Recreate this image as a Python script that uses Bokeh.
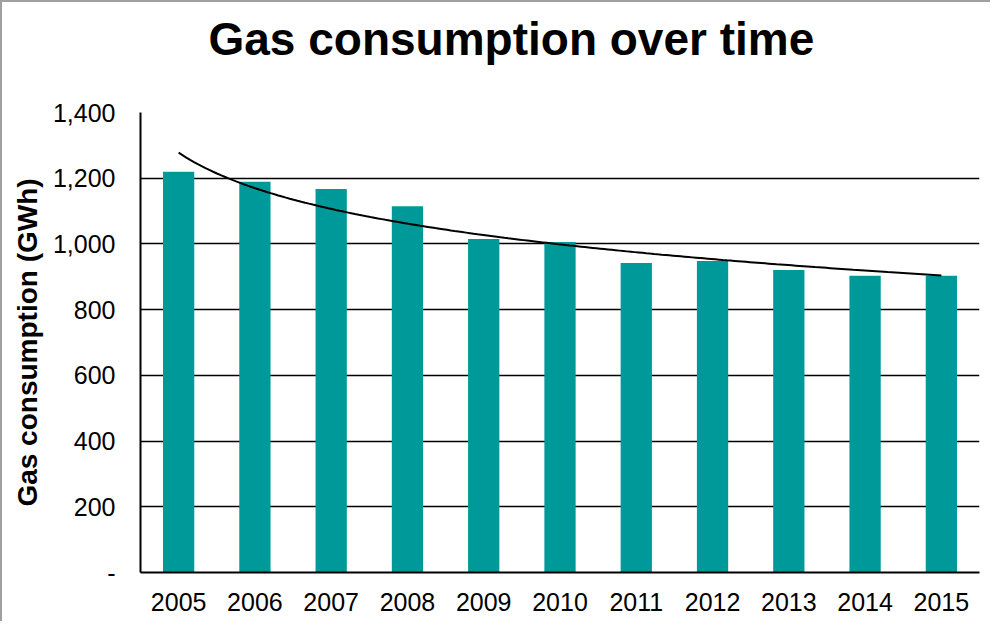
import numpy as np
from bokeh.plotting import figure
from bokeh.models import Range1d, FixedTicker, NumeralTickFormatter, Title
from bokeh.embed import file_html
from bokeh.resources import INLINE

# ---- data ----
years = ["2005", "2006", "2007", "2008", "2009", "2010",
         "2011", "2012", "2013", "2014", "2015"]
consumption = [1220, 1189, 1167, 1115, 1015, 1006, 942, 948, 921, 903, 903]
y_ticks = [0, 200, 400, 600, 800, 1000, 1200, 1400]
title_text = "Gas consumption over time"

idx = np.arange(1, len(years) + 1)

# logarithmic trendline (least squares fit of the data, like a spreadsheet trendline)
b, a = np.polyfit(np.log(idx), np.array(consumption, dtype=float), 1)
tx = np.linspace(1, len(years), 200)
ty = a + b * np.log(tx)

FONT = "Liberation Sans"

p = figure(width=990, height=621, output_backend="svg", toolbar_location=None,
           x_range=Range1d(0.5, len(years) + 0.5), y_range=Range1d(0, 1400),
           min_border_left=138, min_border_top=110, min_border_bottom=51,
           min_border_right=13)
p.styles = {"border-top": "2px solid #a0a0a0", "border-left": "2px solid #a0a0a0"}

# spacer panel between the frame and the title (nearest the frame)
p.add_layout(Title(text=" ", text_font=FONT, text_font_size="20px", standoff=19), "above")
# main title
p.add_layout(Title(text=title_text, text_font=FONT, text_font_size="46px",
                   text_font_style="bold", text_color="black", align="left",
                   offset=68, standoff=10), "above")

p.vbar(x=idx, top=consumption, width=0.41, color="#009999", line_color=None)
p.line(tx, ty, line_color="black", line_width=2)

p.outline_line_color = None
p.background_fill_color = "white"
p.border_fill_color = "white"

p.xgrid.grid_line_color = None
p.ygrid.grid_line_color = "black"
p.ygrid.grid_line_width = 1.5
p.ygrid.ticker = FixedTicker(ticks=y_ticks)

p.xaxis.ticker = FixedTicker(ticks=list(idx))
p.xaxis.major_label_overrides = {int(i): y for i, y in zip(idx, years)}
p.yaxis.ticker = FixedTicker(ticks=y_ticks)
p.yaxis.formatter = NumeralTickFormatter(format="0,0")
p.yaxis.major_label_overrides = {0: "-"}

for ax in (p.xaxis[0], p.yaxis[0]):
    ax.axis_line_color = "black"
    ax.axis_line_width = 2
    ax.major_tick_out = 0
    ax.major_tick_in = 0
    ax.minor_tick_out = 0
    ax.minor_tick_in = 0
    ax.major_label_text_font = FONT
    ax.major_label_text_font_size = "25px"
    ax.major_label_text_color = "black"

p.xaxis.major_label_standoff = 20
p.yaxis.major_label_standoff = 25

p.yaxis.axis_label = "Gas consumption (GWh)"
p.yaxis.axis_label_text_font = FONT
p.yaxis.axis_label_text_font_size = "28px"
p.yaxis.axis_label_text_font_style = "bold"
p.yaxis.axis_label_text_color = "black"
p.yaxis.axis_label_standoff = 7

open("out.html", "w").write(file_html(p, INLINE))
